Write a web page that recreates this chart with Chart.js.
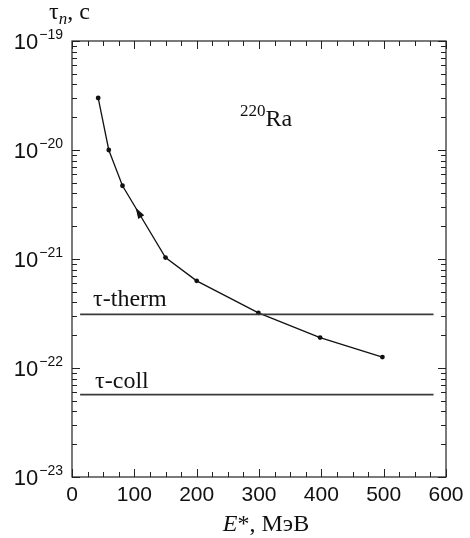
<!DOCTYPE html>
<html>
<head>
<meta charset="utf-8">
<script src="https://cdn.jsdelivr.net/npm/chart.js@4.4.1/dist/chart.umd.min.js"></script>
<style>
    html, body { margin: 0; padding: 0; background: #fff; }
    #wrap { width: 470px; height: 538px; position: relative; }
</style>
</head>
<body>
<div id="wrap"><canvas id="chart" width="470" height="538"></canvas></div>
<script>
// data
const energy = [42, 59, 81, 150, 200, 299, 398, 498];
const tauN = [3.0e-20, 1.0e-20, 4.7e-21, 1.03e-21, 6.3e-22, 3.2e-22, 1.9e-22, 1.26e-22];

const limitRange = [13, 580];
const tauTherm = [3.1e-22, 3.1e-22];
const tauColl = [5.7e-23, 5.7e-23];

// arrowhead on the curve, between the 3rd and 4th point, pointing to lower E
const arrowE = [107];
const arrowTau = [2.65e-21];

const xTicks = [0, 100, 200, 300, 400, 500, 600];
const yExponents = [-23, -22, -21, -20, -19];

const SANS = "'Liberation Sans', Arial, sans-serif";
const SERIF = "'Liberation Serif', 'Times New Roman', serif";

const frame = {
    id: "frame",
    afterDraw(chart) {
        const { ctx, chartArea: a, scales: { x, y } } = chart;
        ctx.save();
        ctx.strokeStyle = "#222";
        ctx.lineWidth = 1.2;
        ctx.strokeRect(a.left, a.top, a.right - a.left, a.bottom - a.top);

        // inward ticks on x (bottom and top)
        ctx.lineWidth = 1;
        ctx.beginPath();
        for (let v = 0; v <= 600; v += 25) {
            const px = Math.round(x.getPixelForValue(v)) + 0.5;
            const len = v % 100 === 0 ? 8 : 5;
            ctx.moveTo(px, a.bottom); ctx.lineTo(px, a.bottom - len);
            ctx.moveTo(px, a.top); ctx.lineTo(px, a.top + len);
        }
        // inward ticks on y (left and right)
        for (const e of yExponents) {
            for (let m = 1; m <= 9; m++) {
                if (m > 1 && e === -19) break;
                const py = Math.round(y.getPixelForValue(m * Math.pow(10, e))) + 0.5;
                const len = m === 1 ? 8 : 5;
                ctx.moveTo(a.left, py); ctx.lineTo(a.left + len, py);
                ctx.moveTo(a.right, py); ctx.lineTo(a.right - len, py);
            }
        }
        ctx.stroke();

        // arrowhead along the segment 3-4
        ctx.fillStyle = "#111";
        const ax = x.getPixelForValue(arrowE[0]), ay = y.getPixelForValue(arrowTau[0]);
        const dx = x.getPixelForValue(energy[2]) - x.getPixelForValue(energy[3]);
        const dy = y.getPixelForValue(tauN[2]) - y.getPixelForValue(tauN[3]);
        const ang = Math.atan2(dy, dx);
        ctx.translate(ax, ay);
        ctx.rotate(ang);
        ctx.beginPath();
        ctx.moveTo(6, 0);
        ctx.lineTo(-5, -3.5);
        ctx.lineTo(-5, 3.5);
        ctx.closePath();
        ctx.fill();
        ctx.setTransform(1, 0, 0, 1, 0, 0);

        // tick labels
        ctx.font = "21px " + SANS;
        ctx.textAlign = "center";
        ctx.textBaseline = "alphabetic";
        for (const v of xTicks) {
            ctx.fillText(String(v), x.getPixelForValue(v), a.bottom + 24);
        }
        for (const e of yExponents) {
            const py = y.getPixelForValue(Math.pow(10, e));
            const sup = "\u2212" + Math.abs(e);
            ctx.font = "14px " + SANS;
            const wSup = ctx.measureText(sup).width;
            ctx.textAlign = "right";
            ctx.fillText(sup, a.left - 9, py - 2);
            ctx.font = "22px " + SANS;
            ctx.fillText("10", a.left - 10 - wSup, py + 8);
        }

        // axis titles
        ctx.textAlign = "left";
        ctx.font = "italic 24px " + SERIF;
        const eW = ctx.measureText("E").width;
        ctx.font = "24px " + SERIF;
        const restW = ctx.measureText("*, МэВ").width;
        let tx = 266 - (eW + restW) / 2;
        ctx.font = "italic 24px " + SERIF;
        ctx.fillText("E", tx, 531);
        ctx.font = "24px " + SERIF;
        ctx.fillText("*, МэВ", tx + eW, 531);

        ctx.font = "24px " + SERIF;
        ctx.fillText("\u03C4", 49, 19);
        const tauW = ctx.measureText("\u03C4").width;
        ctx.font = "italic 17px " + SERIF;
        ctx.fillText("n", 49 + tauW, 24);
        const nW = ctx.measureText("n").width;
        ctx.font = "24px " + SERIF;
        ctx.fillText(", c", 49 + tauW + nW, 19);

        // nucleus label
        ctx.font = "17px " + SERIF;
        ctx.fillText("220", 240, 116);
        const isoW = ctx.measureText("220").width;
        ctx.font = "24px " + SERIF;
        ctx.fillText("Ra", 240 + isoW, 126);

        // labels above the limit lines
        const px0 = x.getPixelForValue(limitRange[0]);
        ctx.fillText("\u03C4-therm", px0 + 13, y.getPixelForValue(tauTherm[0]) - 8);
        ctx.fillText("\u03C4-coll", px0 + 15, y.getPixelForValue(tauColl[0]) - 7);
        ctx.restore();
    }
};

function main() {
    const ctx = document.getElementById("chart");
    new Chart(ctx, {
        type: "scatter",
        data: {
            datasets: [
                {
                    label: "tau-therm",
                    data: limitRange.map((e, i) => ({ x: e, y: tauTherm[i] })),
                    showLine: true,
                    borderColor: "#3a3a3a",
                    borderWidth: 1.8,
                    pointRadius: 0
                },
                {
                    label: "tau-coll",
                    data: limitRange.map((e, i) => ({ x: e, y: tauColl[i] })),
                    showLine: true,
                    borderColor: "#3a3a3a",
                    borderWidth: 1.8,
                    pointRadius: 0
                },
                {
                    label: "220Ra",
                    data: energy.map((e, i) => ({ x: e, y: tauN[i] })),
                    showLine: true,
                    borderColor: "#111",
                    borderWidth: 1.3,
                    tension: 0,
                    pointRadius: 2.4,
                    pointBackgroundColor: "#111",
                    pointBorderColor: "#111",
                    pointBorderWidth: 0
                }
            ]
        },
        options: {
            responsive: false,
            animation: false,
            layout: { padding: { left: 72, right: 24, top: 41, bottom: 61 } },
            plugins: {
                legend: { display: false },
                tooltip: { enabled: false }
            },
            scales: {
                x: { type: "linear", min: 0, max: 600, display: false },
                y: { type: "logarithmic", min: 1e-23, max: 1e-19, display: false }
            }
        },
        plugins: [frame]
    });
}

if (document.readyState === "loading") {
    document.addEventListener("DOMContentLoaded", main);
} else {
    main();
}
</script>
</body>
</html>
